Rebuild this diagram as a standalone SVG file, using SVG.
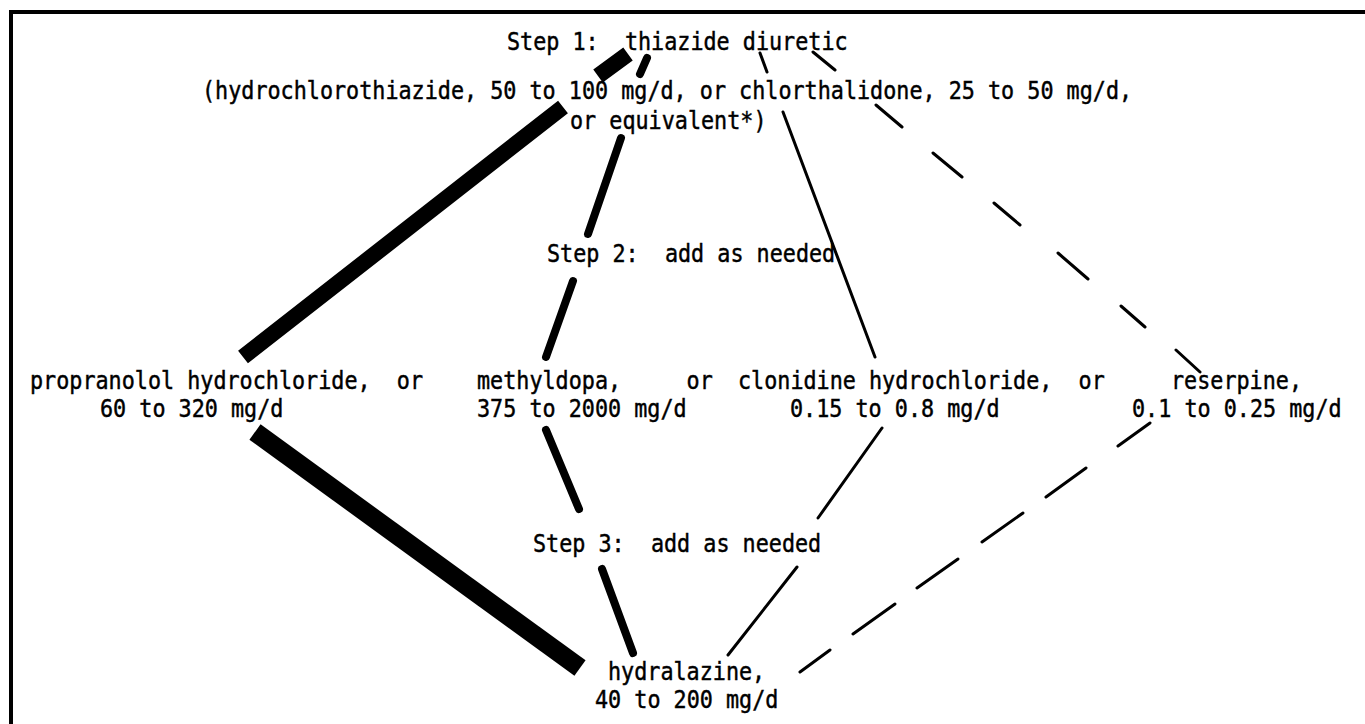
<svg xmlns="http://www.w3.org/2000/svg" width="1365" height="724" viewBox="0 0 1365 724">
<style>
text{font-family:"DejaVu Sans Mono","Liberation Mono",monospace;font-size:24px;fill:#000;stroke:#000;stroke-width:0.45;white-space:pre}
.c{fill:none;stroke:#000}
.thick{stroke-width:16;stroke-linecap:butt}
.thicker{stroke-width:19;stroke-linecap:butt}
.med{stroke-width:8;stroke-linecap:round}
.thin{stroke-width:3;stroke-linecap:round}
</style>
<rect width="1365" height="724" fill="#fff"/>
<path d="M11,724 V12 H1365" fill="none" stroke="#000" stroke-width="4"/>
<g id="connectors">
<path class="c thick" d="M628,54 L598,76 M563,107 L243,357"/>
<path class="c thicker" d="M255,432 L580,668"/>
<path class="c med" d="M647,58 L640,74 M621,138 L588,234 M573,281 L546,357 M546,430 L579,509 M602,569 L633,653"/>
<path class="c thin" d="M760,53 L767,72 M783,112 L875,357 M882,428 L818,518 M797,567 L728,655"/>
<path class="c thin" d="M813,52 L835,70 M876,105 L902,127 M933,153 L962,177 M994,203 L1020,225 M1058,253 L1088,279 M1121,306 L1145,327 M1176,350 L1200,372 M1150,423 L1118,446 M1086,468 L1046,497 M1023,513 L982,542 M958,559 L917,588 M895,604 L853,634 M830,650 L800,672"/>
</g>
<g id="step1">
<text x="507" y="50" textLength="340.6" lengthAdjust="spacingAndGlyphs" xml:space="preserve">Step 1:  thiazide diuretic</text>
<text x="202" y="99" textLength="930.1" lengthAdjust="spacingAndGlyphs">(hydrochlorothiazide, 50 to 100 mg/d, or chlorthalidone, 25 to 50 mg/d,</text>
<text x="570" y="129" textLength="196.5" lengthAdjust="spacingAndGlyphs">or equivalent*)</text>
</g>
<g id="step2">
<text x="547" y="262" textLength="288.2" lengthAdjust="spacingAndGlyphs" xml:space="preserve">Step 2:  add as needed</text>
</g>
<g id="propranolol">
<text x="30" y="389" textLength="393" lengthAdjust="spacingAndGlyphs" xml:space="preserve">propranolol hydrochloride,  or</text>
<text x="100" y="417" textLength="183.4" lengthAdjust="spacingAndGlyphs">60 to 320 mg/d</text>
</g>
<g id="methyldopa">
<text x="477" y="389" textLength="235.8" lengthAdjust="spacingAndGlyphs" xml:space="preserve">methyldopa,     or</text>
<text x="477" y="417" textLength="209.6" lengthAdjust="spacingAndGlyphs">375 to 2000 mg/d</text>
</g>
<g id="clonidine">
<text x="738" y="389" textLength="366.8" lengthAdjust="spacingAndGlyphs" xml:space="preserve">clonidine hydrochloride,  or</text>
<text x="790" y="417" textLength="209.6" lengthAdjust="spacingAndGlyphs">0.15 to 0.8 mg/d</text>
</g>
<g id="reserpine">
<text x="1171" y="389" textLength="131" lengthAdjust="spacingAndGlyphs">reserpine,</text>
<text x="1132" y="417" textLength="209.6" lengthAdjust="spacingAndGlyphs">0.1 to 0.25 mg/d</text>
</g>
<g id="step3">
<text x="533" y="552" textLength="288.2" lengthAdjust="spacingAndGlyphs" xml:space="preserve">Step 3:  add as needed</text>
</g>
<g id="hydralazine">
<text x="608" y="680" textLength="157.2" lengthAdjust="spacingAndGlyphs">hydralazine,</text>
<text x="595" y="708" textLength="183.4" lengthAdjust="spacingAndGlyphs">40 to 200 mg/d</text>
</g>
</svg>
